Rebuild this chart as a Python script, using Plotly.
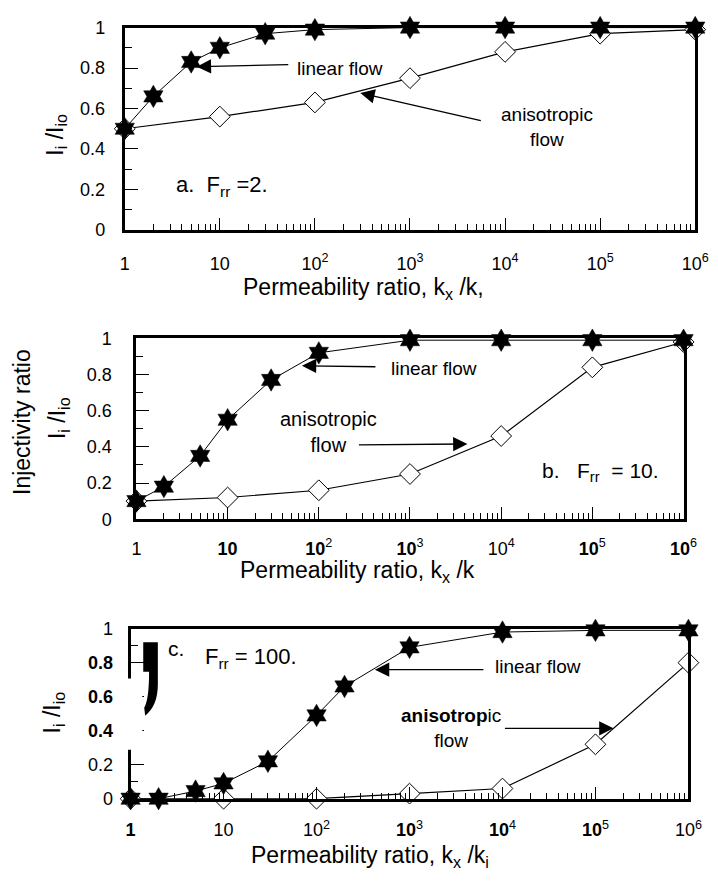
import plotly.graph_objects as go

W, H = 718, 883
FONT = "Arial, Liberation Sans, sans-serif"

# ---------------- data ----------------
x_lin_a = [1, 2, 5, 10, 30, 100, 1e3, 1e4, 1e5, 1e6]
y_lin_a = [0.50, 0.66, 0.83, 0.90, 0.97, 0.99, 1.0, 1.0, 1.0, 1.0]
x_ani_a = [1, 10, 100, 1e3, 1e4, 1e5, 1e6]
y_ani_a = [0.50, 0.56, 0.63, 0.75, 0.88, 0.97, 0.99]

x_lin_b = [1, 2, 5, 10, 30, 100, 1e3, 1e4, 1e5, 1e6]
y_lin_b = [0.10, 0.18, 0.35, 0.55, 0.77, 0.92, 0.99, 0.99, 0.99, 0.99]
x_ani_b = [1, 10, 100, 1e3, 1e4, 1e5, 1e6]
y_ani_b = [0.10, 0.12, 0.16, 0.25, 0.46, 0.84, 0.98]

x_lin_c = [1, 2, 5, 10, 30, 100, 200, 1e3, 1e4, 1e5, 1e6]
y_lin_c = [0.0, 0.0, 0.045, 0.09, 0.22, 0.49, 0.66, 0.89, 0.98, 0.99, 0.99]
x_ani_c = [1, 10, 100, 1e3, 1e4, 1e5, 1e6]
y_ani_c = [0.0, 0.0, 0.0, 0.03, 0.06, 0.32, 0.80]

x_tickvals = [1, 10, 100, 1e3, 1e4, 1e5, 1e6]
x_ticktext_a = ["1", "10", "10<sup>2</sup>", "10<sup>3</sup>", "10<sup>4</sup>", "10<sup>5</sup>", "10<sup>6</sup>"]
x_ticktext_b = ["1", "<b>10</b>", "<b>10</b><sup>2</sup>", "<b>10</b><sup>3</sup>", "10<sup>4</sup>", "<b>10</b><sup>5</sup>", "<b>10</b><sup>6</sup>"]
x_ticktext_c = ["<b>1</b>", "10", "10<sup>2</sup>", "<b>10</b><sup>3</sup>", "<b>10</b><sup>4</sup>", "<b>10</b><sup>5</sup>", "10<sup>6</sup>"]
y_tickvals = [0, 0.2, 0.4, 0.6, 0.8, 1]
y_ticktext_ab = ["0", "0.2", "0.4", "0.6", "0.8", "1"]
y_ticktext_c = ["0", "0.2", "<b>0.4</b>", "<b>0.6</b>", "<b>0.8</b>", "1"]
x_minor = [m * 10 ** d for d in range(6) for m in range(2, 10)]

# panel placement in pixels: (left, right, top, bottom)
panels = {
    "a": (123, 709, 18, 225),
    "b": (135, 697, 336, 521),
    "c": (129, 702, 633, 807),
}


def px(x):
    return x / W


def py(y):
    return 1 - y / H


fig = go.Figure()

sets = [
    ("", "", x_lin_a, y_lin_a, x_ani_a, y_ani_a),
    ("2", "2", x_lin_b, y_lin_b, x_ani_b, y_ani_b),
    ("3", "3", x_lin_c, y_lin_c, x_ani_c, y_ani_c),
]
for xs, ys, xl, yl, xa, ya in sets:
    fig.add_trace(go.Scatter(
        x=xa, y=ya, mode="lines+markers", xaxis="x" + xs, yaxis="y" + ys,
        line=dict(color="black", width=1.2),
        marker=dict(symbol="diamond", size=16, color="white",
                    line=dict(color="black", width=1)),
        cliponaxis=False))
    fig.add_trace(go.Scatter(
        x=xl, y=yl, mode="lines+markers", xaxis="x" + xs, yaxis="y" + ys,
        line=dict(color="black", width=1),
        marker=dict(symbol="hexagram", size=17, color="black",
                    line=dict(color="black", width=0.5)),
        cliponaxis=False))

layout_axes = {}
ttexts = {"a": x_ticktext_a, "b": x_ticktext_b, "c": x_ticktext_c}
standoff_y = {"a": 13, "b": 18, "c": 11}
standoff_x = {"a": 15, "b": 11, "c": 13}
for key, suffix in zip(["a", "b", "c"], ["", "2", "3"]):
    l, r, t, b = panels[key]
    layout_axes["xaxis" + suffix] = dict(
        type="log", range=[0, 6], domain=[px(l), px(r)],
        anchor="y" + suffix,
        showline=True, linewidth=3, linecolor="black", mirror=True,
        ticks="inside", ticklen=12, tickwidth=1.3, tickcolor="black",
        tickmode="array", tickvals=x_tickvals, ticktext=ttexts[key],
        minor=dict(tickmode="array", tickvals=x_minor, ticks="inside",
                   ticklen=6, tickwidth=1, tickcolor="black"),
        showgrid=False, zeroline=False,
        tickfont=dict(family=FONT, size=18, color="black"),
        ticklabelstandoff=standoff_x[key],
    )
    layout_axes["yaxis" + suffix] = dict(
        range=[0, 1], domain=[py(b), py(t)], anchor="x" + suffix,
        showline=True, linewidth=3, linecolor="black", mirror=True,
        ticks="inside", ticklen=13, tickwidth=1.3, tickcolor="black",
        tickmode="array", tickvals=y_tickvals,
        ticktext=y_ticktext_c if key == "c" else y_ticktext_ab,
        minor=dict(dtick=0.1, ticks="inside", ticklen=7, tickwidth=1, tickcolor="black"),
        showgrid=False, zeroline=False,
        tickfont=dict(family=FONT, size=18, color="black"),
        ticklabelstandoff=standoff_y[key],
    )

annotations = []


def text(s, x, y, size=19, angle=0):
    annotations.append(dict(
        text=s, x=px(x), y=py(y), xref="paper", yref="paper",
        xanchor="center", yanchor="middle", showarrow=False, textangle=angle,
        font=dict(family=FONT, size=size, color="black")))


def arrow(tip, tail):
    annotations.append(dict(
        text="", x=px(tip[0]), y=py(tip[1]), xref="paper", yref="paper",
        ax=tail[0] - tip[0], ay=tail[1] - tip[1], axref="pixel", ayref="pixel",
        showarrow=True, arrowhead=2, arrowsize=2.2, arrowwidth=1.3,
        arrowcolor="black"))


# panel a
text("linear flow", 344, 60)
arrow((197, 58), (290, 56))
text("anisotropic<br>flow", 557, 120)
arrow((365, 85), (487, 113))
text("a.  F<sub>rr</sub> =2.", 223, 180, size=22)
text("Permeability ratio, k<sub>x</sub> /k,", 368, 285, size=23)
text("I<sub>i</sub> /I<sub>io</sub>", 52, 128, size=23, angle=-90)

# panel b
text("linear flow", 441, 367)
arrow((305, 364), (380, 365))
text("anisotropic<br>flow", 332, 432, size=20)
arrow((475, 444), (365, 445))
text("b.   F<sub>rr</sub>  = 10.", 612, 473, size=21)
text("Permeability ratio, k<sub>x</sub> /k", 362, 575, size=23)
text("Injectivity ratio", 18, 422, size=23, angle=-90)
text("I<sub>i</sub> /I<sub>io</sub>", 55, 418, size=23, angle=-90)

# panel c
text("linear flow", 548, 672)
arrow((380, 675), (490, 675))
text("<b>anisotrop</b>ic<br>flow", 458, 735)
arrow((625, 735), (515, 735))
text("c.", 176, 653, size=21)
text("F<sub>rr</sub> = 100.", 253, 663, size=22)
text("Permeability ratio, k<sub>x</sub> /k<sub>i</sub>", 375, 866, size=23)
text("I<sub>i</sub> /I<sub>io</sub>", 50, 719, size=23, angle=-90)

# scan artefacts in panel c: broken left axis and dark blob
shapes = [
    dict(type="rect", xref="paper", yref="paper",
         x0=px(125), x1=px(141), y0=py(757), y1=py(684),
         fillcolor="white", line=dict(width=0), layer="above"),
    dict(type="path", xref="paper", yref="paper",
         path=("M {:.5f} {:.5f} L {:.5f} {:.5f} L {:.5f} {:.5f} Q {:.5f} {:.5f} {:.5f} {:.5f} "
               "L {:.5f} {:.5f} Q {:.5f} {:.5f} {:.5f} {:.5f} L {:.5f} {:.5f} Z").format(
             px(142), py(647), px(157), py(647), px(157), py(690),
             px(157), py(712), px(144), py(722),
             px(143), py(714), px(148), py(705), px(148), py(677),
             px(142), py(677)),
         fillcolor="black", line=dict(width=0), layer="above"),
]

fig.update_layout(
    width=W, height=H, margin=dict(l=0, r=0, t=0, b=0),
    paper_bgcolor="white", plot_bgcolor="white", showlegend=False,
    annotations=annotations, shapes=shapes,
    font=dict(family=FONT, color="black"),
    **layout_axes,
)

fig.write_html("out.html")
